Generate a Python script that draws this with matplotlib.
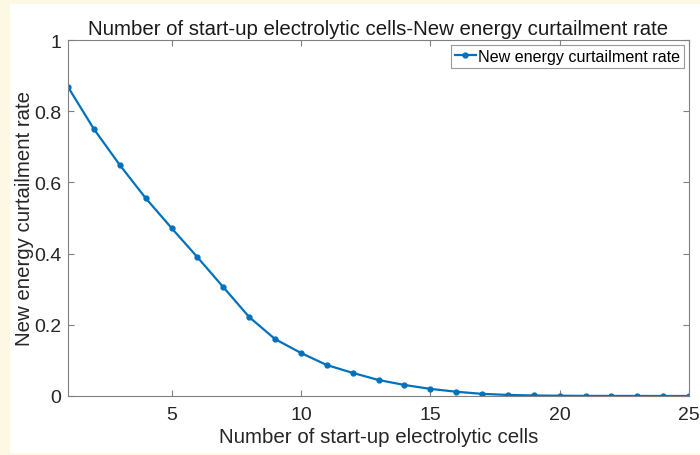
import matplotlib.pyplot as plt
from matplotlib.patches import Rectangle

# startup count vs curtailment rate
cells = list(range(1, 26))
curtail_rate = [0.868, 0.750, 0.649, 0.556, 0.472, 0.390, 0.306, 0.222, 0.160, 0.121,
                0.087, 0.065, 0.045, 0.031, 0.020, 0.012, 0.006, 0.003, 0.0015, 0.0008,
                0.0003, 0.0002, 0.0001, 0.0, 0.0]
xticks = [5, 10, 15, 20, 25]
yticks = [0, 0.2, 0.4, 0.6, 0.8, 1]
ytick_labels = ['0', '0.2', '0.4', '0.6', '0.8', '1']

plt.rcParams['font.family'] = ['Liberation Sans', 'DejaVu Sans']

fig = plt.figure(figsize=(7, 4.56), dpi=100)
fig.patch.set_facecolor('#fdf8e4')
# white panel behind the plot
fig.patches.append(Rectangle((10 / 700, 2 / 456), 690 / 700, 449 / 456,
                             transform=fig.transFigure, facecolor='white',
                             edgecolor='none', zorder=-5))

ax = fig.add_axes([68 / 700, 1 - 397 / 456, 621 / 700, 356 / 456])
ax.set_zorder(2)
ax.plot(cells, curtail_rate, '.-', color='#0072BD', linewidth=1.6, markersize=7,
        label='New energy curtailment rate')

ax.set_xlim(1, 25)
ax.set_ylim(0, 1)
ax.set_xticks(xticks)
ax.set_yticks(yticks)
ax.set_yticklabels(ytick_labels)

for s in ax.spines.values():
    s.set_color('#808080')
    s.set_linewidth(0.8)
ax.tick_params(direction='in', top=True, right=True, length=4, width=0.8,
               color='#808080', labelcolor='#262626', labelsize=14)
ax.tick_params(axis='x', pad=7)
ax.tick_params(axis='y', pad=5)

ax.set_title('Number of start-up electrolytic cells-New energy curtailment rate',
             fontsize=14.7, color='#1a1a1a', pad=4)
ax.set_xlabel('Number of start-up electrolytic cells', fontsize=14.8, color='#262626', labelpad=3)
ax.set_ylabel('New energy curtailment rate', fontsize=14.7, color='#262626', labelpad=0)

leg = ax.legend(loc='upper right', fontsize=11.6, frameon=True, fancybox=False,
                borderaxespad=0.3, handlelength=1.3, handletextpad=0.15,
                borderpad=0.25)
leg.get_frame().set_edgecolor('#808080')
leg.get_frame().set_linewidth(0.8)

fig.savefig('out.png', dpi=100, facecolor=fig.get_facecolor())
